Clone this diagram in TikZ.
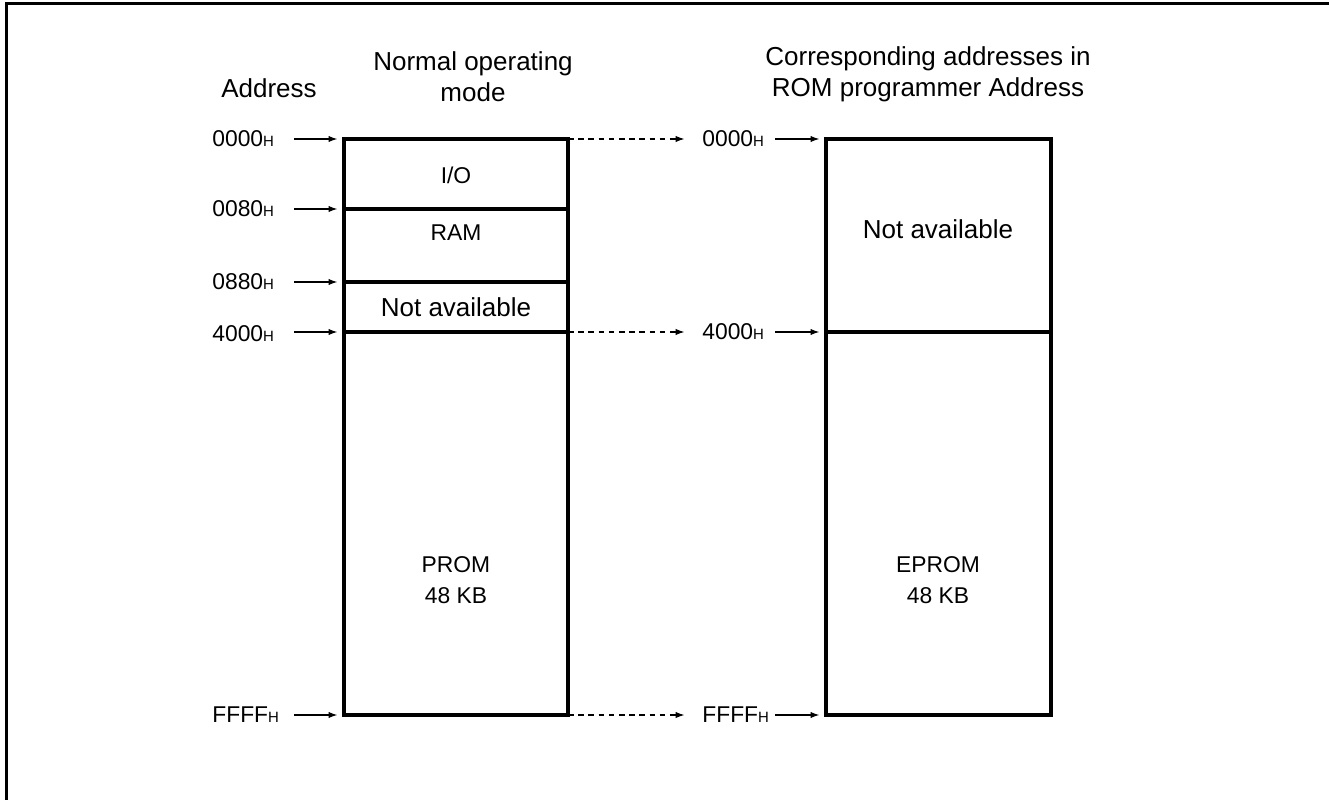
\documentclass[tikz,border=0pt]{standalone}
\usepackage{fontspec}
\setmainfont{Liberation Sans}
\usetikzlibrary{arrows.meta,positioning,calc}

\tikzset{
  memline/.style={line width=1.8pt},
  headtxt/.style={font=\fontsize{14.8}{17.8}\selectfont, align=center, inner sep=0pt},
  areatxt/.style={font=\fontsize{13}{17.6}\selectfont, align=center, inner sep=0pt},
  bigtxt/.style={font=\fontsize{14.8}{17.8}\selectfont, inner sep=0pt},
  addr/.style={font=\fontsize{13}{15}\selectfont, inner sep=0pt, anchor=west},
  ptr/.style={-{Latex[length=5pt,width=3.6pt]}, line width=0.6pt, shorten >=3.8pt},
  mapto/.style={ptr, dash pattern=on 3.2pt off 2.6pt, shorten >=10pt}
}
\newcommand{\hexa}[1]{#1{\fontsize{8.5}{9}\selectfont H}}

\begin{document}
\begin{tikzpicture}[x=0.02cm,y=-0.02cm]
\useasboundingbox (0,0) rectangle (1329,800);
% outer frame (cut off)
\draw[line width=2pt] (6.5,800) -- (6.5,3.5) -- (1329,3.5);

% headings
\node[headtxt] (hAddr) at (269,88) {Address};
\node[headtxt] (hNormal) at (473,77) {Normal operating\\mode};
\node[headtxt] (hRom) at (928,74) {Corresponding addresses in\\ROM programmer Address};

% normal operating mode map
\coordinate (l0) at (344,139);
\coordinate (l1) at (344,209);
\coordinate (l2) at (344,282);
\coordinate (l3) at (344,332);
\coordinate (l4) at (344,715);
\draw[memline] (l0) rectangle (568,715);
\foreach \yy in {209,282,332} \draw[memline] (344,\yy) -- (568,\yy);
\node[areatxt] (io) at (456,175) {I/O};
\node[areatxt] (ram) at (456,233) {RAM};
\node[bigtxt] (na1) at (456,307) {Not available};
\node[areatxt] (prom) at (456,580) {PROM\\48 KB};

% ROM programmer map
\coordinate (r0) at (826,139);
\coordinate (r3) at (826,332);
\coordinate (r4) at (826,715);
\draw[memline] (r0) rectangle (1051,715);
\draw[memline] (r3) -- (1051,332);
\node[bigtxt] (na2) at (938,229) {Not available};
\node[areatxt] (eprom) at (938,580) {EPROM\\48 KB};

% addresses, left
\node[addr] (a0) at (212,139) {\hexa{0000}};
\node[addr] (a1) at (212,209) {\hexa{0080}};
\node[addr] (a2) at (212,282) {\hexa{0880}};
\node[addr] (a3) at (212,334) {\hexa{4000}};
\node[addr] (a4) at (212,715) {\hexa{FFFF}};
\foreach \i in {0,...,4}
  \draw[ptr] ($(l\i)+(-50,0)$) -- (l\i);

% addresses, right
\node[addr] (b0) at (702,139) {\hexa{0000}};
\node[addr] (b3) at (702,332) {\hexa{4000}};
\node[addr] (b4) at (702,715) {\hexa{FFFF}};
\foreach \i in {0,3,4} {
  \draw[ptr] ($(r\i)+(-51,0)$) -- (r\i);
  \draw[mapto] ($(l\i)+(224,0)$) -- (b\i.west);
}
\end{tikzpicture}
\end{document}
